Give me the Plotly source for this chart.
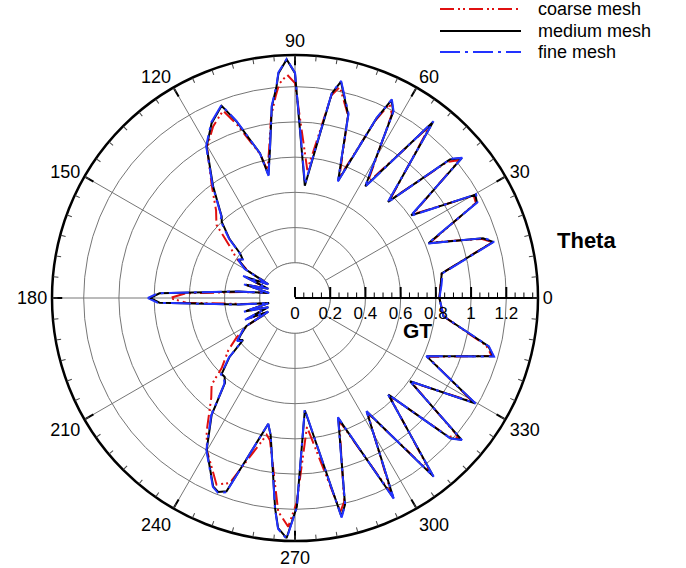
import plotly.graph_objects as go

# ---------------- data ----------------
theta_coarse = [0, 5, 9.5, 15.8, 17.6, 22.3, 27.7, 29.8, 35.4, 40.0, 41.8, 45.9, 51.9, 57.8,
                62.2, 64.0, 65.6, 69.8, 73.8, 78.0, 79.8, 84.5, 90.0, 92.0, 94.2, 95.5, 97.5,
                100, 102.2, 103.6, 108.3, 111.0, 115.5, 120.3, 126.3, 132.0, 137.0, 141.7,
                146.0, 150, 153, 157, 161, 165, 169, 173.5, 177.5, 180, 182.5, 186.5, 191,
                195, 199, 203.5, 207, 210, 214, 218, 223.7, 226.1, 230, 236.5, 240, 247.2,
                250.6, 258.3, 260, 265.5, 268.3, 270.5, 275.3, 282, 283.6, 289.8, 296.2,
                302.3, 307.8, 314, 317.9, 319.6, 324.1, 329.7, 336.1, 343.6, 346, 353, 360]
r_coarse = [0.82, 0.83, 0.845, 1.165, 1.11, 0.83, 1.16, 1.17, 0.82, 1.22, 1.16, 0.77, 1.245, 0.77,
            1.18, 1.225, 1.11, 0.73, 1.08, 1.225, 1.17, 0.73, 1.22, 1.268, 1.22, 1.15, 1.04,
            0.85, 0.74, 0.84, 1.03, 1.14, 1.08, 0.99, 0.80, 0.67, 0.61, 0.47,
            0.40, 0.31, 0.18, 0.29, 0.17, 0.28, 0.16, 0.30, 0.62, 0.71, 0.62, 0.30, 0.16,
            0.28, 0.17, 0.29, 0.18, 0.31, 0.40, 0.48, 0.576, 0.683, 0.74, 0.909, 1.0, 1.15,
            1.114, 0.793, 0.82, 1.216, 1.30, 1.16, 0.735, 1.24, 1.19, 0.74, 1.24,
            0.77, 1.26, 0.77, 1.17, 1.225, 0.815, 1.17, 0.825, 1.165, 1.12, 0.85, 0.82]

theta_medium = [0, 5, 9.5, 15.8, 17.6, 22.3, 27.7, 29.8, 35.4, 40.0, 41.8, 45.9, 51.9, 57.8,
                62.2, 64.0, 65.6, 69.8, 73.8, 78.0, 79.8, 85.0, 90.0, 92.0, 94.2, 95.0, 96.9,
                99.6, 102.2, 103.6, 108.3, 110.9, 115.5, 120.3, 126.3, 132.0, 133.9, 138,
                141, 143.5, 146, 150, 153, 157, 161, 165, 169, 173.5, 178, 180, 182, 186.5,
                191, 195, 199, 203.5, 207, 210, 214, 216.5, 219, 222, 226, 228.2, 230.5,
                234.5, 239.8, 246.5, 248.4, 250.5, 258, 259.9, 264.6, 265.8, 268, 270.5,
                275, 282, 283.6, 289.8, 296.2, 302.3, 307.8, 314, 317.9, 319.6, 324.1,
                329.7, 336.1, 343.6, 346, 353, 360]
r_medium = [0.82, 0.83, 0.845, 1.17, 1.12, 0.82, 1.167, 1.18, 0.81, 1.236, 1.18, 0.76, 1.27, 0.75,
            1.197, 1.25, 1.12, 0.71, 1.083, 1.256, 1.18, 0.64, 1.277, 1.355, 1.28, 1.205, 1.095,
            0.853, 0.715, 0.846, 1.055, 1.168, 1.10, 0.995, 0.785, 0.622, 0.60, 0.50,
            0.40, 0.37, 0.385, 0.32, 0.17, 0.31, 0.16, 0.29, 0.15, 0.32, 0.77, 0.824, 0.77, 0.32,
            0.15, 0.29, 0.16, 0.30, 0.17, 0.32, 0.37, 0.40, 0.38, 0.50, 0.60, 0.60, 0.625,
            0.815, 0.997, 1.166, 1.185, 1.165, 0.732, 0.789, 1.20, 1.31, 1.364, 1.186,
            0.64, 1.268, 1.208, 0.725, 1.266, 0.762, 1.282, 0.763, 1.187, 1.243, 0.807,
            1.184, 0.818, 1.174, 1.132, 0.849, 0.82]

theta_fine = [0, 5, 9.5, 15.8, 17.6, 22.3, 27.7, 29.8, 35.4, 40.0, 41.8, 45.9, 51.9, 57.8,
              62.2, 64.0, 65.6, 69.8, 73.8, 78.0, 79.8, 85.0, 90.0, 92.0, 94.2, 95.0, 96.9,
              99.6, 102.2, 103.6, 108.3, 110.9, 115.5, 120.3, 126.3, 132.0, 133.9, 138,
              141, 143.5, 146, 150, 153, 157, 161, 165, 169, 173.5, 178, 180, 182, 186.5,
              191, 195, 199, 203.5, 207, 210, 214, 216.5, 219, 222, 226, 228.2, 230.5,
              234.5, 239.8, 246.5, 248.4, 250.5, 258, 259.9, 264.6, 265.8, 268, 270.5,
              275, 282, 283.6, 289.8, 296.2, 302.3, 307.8, 314, 317.9, 319.6, 324.1,
              329.7, 336.1, 343.6, 346, 353, 360]
r_fine = [0.82, 0.835, 0.85, 1.175, 1.125, 0.815, 1.17, 1.185, 0.805, 1.24, 1.185, 0.755, 1.275, 0.745,
          1.20, 1.255, 1.125, 0.705, 1.09, 1.26, 1.185, 0.65, 1.28, 1.358, 1.285, 1.21, 1.10,
          0.855, 0.71, 0.845, 1.06, 1.172, 1.105, 1.0, 0.79, 0.625, 0.61, 0.505,
          0.405, 0.37, 0.39, 0.33, 0.17, 0.32, 0.16, 0.30, 0.15, 0.33, 0.78, 0.835, 0.78, 0.33,
          0.15, 0.30, 0.16, 0.31, 0.17, 0.33, 0.375, 0.41, 0.385, 0.505, 0.605, 0.605, 0.63,
          0.82, 1.0, 1.17, 1.19, 1.17, 0.73, 0.79, 1.205, 1.315, 1.368, 1.19,
          0.635, 1.275, 1.21, 0.72, 1.27, 0.76, 1.285, 0.76, 1.19, 1.245, 0.805,
          1.188, 0.815, 1.178, 1.135, 0.85, 0.82]

series_names = ["coarse mesh", "medium mesh", "fine mesh"]
series_colors = ["#e01010", "#000000", "#2233ff"]
series_dash = ["14px,4px,2px,3px,2px,4px", "solid", "20px,5px,3px,5px"]

angular_major = [0, 30, 60, 90, 120, 150, 180, 210, 240, 270, 300, 330]
angular_labels = ["0", "30", "60", "90", "120", "150", "180", "210", "240", "270", "300", "330"]
radial_major = [0, 0.2, 0.4, 0.6, 0.8, 1.0, 1.2]
radial_labels = ["0", "0.2", "0.4", "0.6", "0.8", "1", "1.2"]
angular_minor = list(range(0, 360, 5))
radial_minor = [round(0.05 * i, 2) for i in range(0, 28)]
r_max = 1.38
inner_ring = 0.2

FONT = "Liberation Sans, Arial, sans-serif"
GRID = "#767676"
W, H = 686, 568
cx, cy, R = 295, 298, 243
dom_x = [(cx - R) / W, (cx + R) / W]
dom_y = [1 - (cy + R) / H, 1 - (cy - R) / H]

fig = go.Figure()

# white disk inside the innermost ring (spokes start at the first ring)
ring_theta = list(range(0, 361, 3))
fig.add_trace(go.Scatterpolar(r=[inner_ring] * len(ring_theta), theta=ring_theta, mode="lines",
                              fill="toself", fillcolor="white",
                              line=dict(color=GRID, width=1),
                              showlegend=False, hoverinfo="skip", subplot="polar"))

data = [(theta_coarse, r_coarse), (theta_medium, r_medium), (theta_fine, r_fine)]
for (th, rr), name, col, dash in zip(data, series_names, series_colors, series_dash):
    fig.add_trace(go.Scatterpolar(r=rr, theta=th, mode="lines", name=name,
                                  line=dict(color=col, width=2, dash=dash),
                                  showlegend=False, subplot="polar"))

# dummy trace to activate the overlay subplot carrying minor ticks
fig.add_trace(go.Scatterpolar(r=[0], theta=[0], mode="markers", marker=dict(opacity=0),
                              showlegend=False, hoverinfo="skip", subplot="polar2"))

fig.update_layout(
    width=W, height=H, margin=dict(l=0, r=0, t=0, b=0),
    paper_bgcolor="white", plot_bgcolor="white",
    font=dict(family=FONT, color="black"),
    polar=dict(
        domain=dict(x=dom_x, y=dom_y), bgcolor="white",
        radialaxis=dict(range=[0, r_max], angle=0, tickangle=0, side="clockwise",
                        tickvals=radial_major, ticktext=radial_labels,
                        ticks="inside", ticklen=10, tickwidth=1.5, tickcolor="black",
                        showline=True, linecolor="black", linewidth=2,
                        showgrid=True, gridcolor=GRID, gridwidth=1,
                        tickfont=dict(size=17, family=FONT, color="black")),
        angularaxis=dict(rotation=0, direction="counterclockwise",
                         tickvals=angular_major, ticktext=angular_labels,
                         ticks="inside", ticklen=9, tickwidth=1.5, tickcolor="black",
                         showline=True, linecolor="black", linewidth=2.5,
                         showgrid=True, gridcolor=GRID, gridwidth=1,
                         tickfont=dict(size=18, family=FONT, color="black")),
    ),
    polar2=dict(
        domain=dict(x=dom_x, y=dom_y), bgcolor="rgba(0,0,0,0)",
        radialaxis=dict(range=[0, r_max], angle=0, side="clockwise",
                        tickvals=radial_minor, ticks="inside", ticklen=5, tickwidth=1,
                        tickcolor="black", showticklabels=False,
                        showline=False, showgrid=False),
        angularaxis=dict(rotation=0, direction="counterclockwise",
                         tickvals=angular_minor, ticks="inside", ticklen=5, tickwidth=1,
                         tickcolor="#444444", showticklabels=False,
                         showline=False, showgrid=False),
    ),
)

# custom legend (long line samples, as in the reference)
legend_y = [9, 31, 52]
shapes, annos = [], []
for name, col, dash, yy in zip(series_names, series_colors, series_dash, legend_y):
    shapes.append(dict(type="line", xref="paper", yref="paper",
                       x0=440 / W, x1=521 / W, y0=1 - yy / H, y1=1 - yy / H,
                       line=dict(color=col, width=2, dash=dash)))
    annos.append(dict(text=name, xref="paper", yref="paper", x=536 / W, y=1 - yy / H,
                      xanchor="left", yanchor="middle", showarrow=False,
                      font=dict(size=18, family=FONT, color="black")))

annos.append(dict(text="<b>Theta</b>", xref="paper", yref="paper", x=586 / W, y=1 - 241 / H,
                  xanchor="center", yanchor="middle", showarrow=False,
                  font=dict(size=22, family=FONT, color="black")))
annos.append(dict(text="<b>GT</b>", xref="paper", yref="paper", x=417 / W, y=1 - 331 / H,
                  xanchor="center", yanchor="middle", showarrow=False,
                  font=dict(size=21, family=FONT, color="black")))

fig.update_layout(shapes=shapes, annotations=annos)
fig.write_html("out.html")
